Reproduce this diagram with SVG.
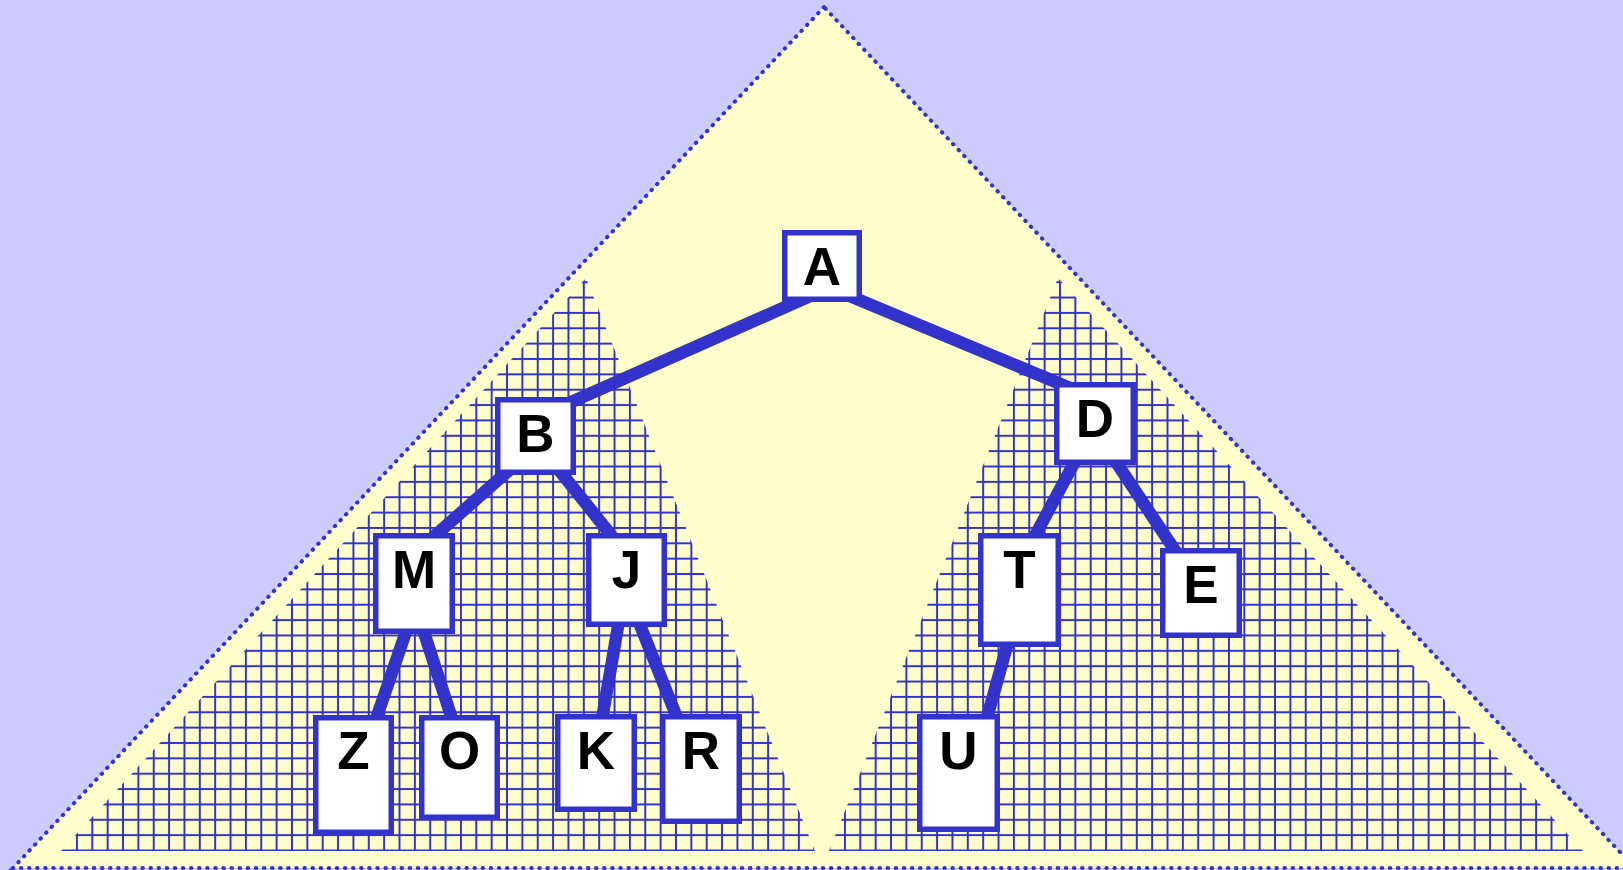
<svg xmlns="http://www.w3.org/2000/svg" width="1623" height="870" viewBox="0 0 1623 870">
<style>
.box{fill:#ffffff;stroke:#3333cc;stroke-width:5.5}
.lbl{font-family:"Liberation Sans",Arial,sans-serif;font-weight:bold;font-size:53px;fill:#000000;text-anchor:middle}
.edge{stroke:#3333cc;stroke-width:12.5;stroke-linecap:butt;fill:none}
</style>
<defs>
<pattern id="grid" patternUnits="userSpaceOnUse" x="-7.54" y="-1.98" width="15.36" height="15.36">
<line x1="7.68" y1="0" x2="7.68" y2="15.36" stroke="#3333cc" stroke-width="2"/>
<line x1="0" y1="7.68" x2="15.36" y2="7.68" stroke="#3333cc" stroke-width="2"/>
</pattern>
</defs>
<rect x="0" y="0" width="1623" height="870" fill="#ccccff"/>
<polygon points="824,7 13,868 1635,868" fill="#ffffcc" stroke="#3333cc" stroke-width="4" stroke-linecap="round" stroke-dasharray="0.5 7.6"/>
<g id="hatch">
<polygon points="586,278 61,851 815,851" fill="url(#grid)"/>
<polygon points="1058,278 1583,851 829,851" fill="url(#grid)"/>
</g>
<g id="connectors">
<line class="edge" x1="810" y1="296" x2="560" y2="407"/>
<line class="edge" x1="845" y1="294" x2="1075" y2="390"/>
<line class="edge" x1="515" y1="465" x2="430" y2="540"/>
<line class="edge" x1="555" y1="465" x2="615" y2="540"/>
<line class="edge" x1="1080" y1="452" x2="1030" y2="545"/>
<line class="edge" x1="1108" y1="450" x2="1180" y2="558"/>
<line class="edge" x1="410" y1="620" x2="374" y2="725"/>
<line class="edge" x1="420" y1="620" x2="454" y2="725"/>
<line class="edge" x1="620" y1="615" x2="601" y2="725"/>
<line class="edge" x1="636" y1="615" x2="680" y2="725"/>
<line class="edge" x1="1010" y1="635" x2="985" y2="725"/>
</g>
<g id="node-A"><rect class="box" x="784.75" y="232.75" width="74.5" height="66.5"/><text class="lbl" x="822" y="285">A</text></g>
<g id="node-B"><rect class="box" x="497.75" y="399.75" width="75.5" height="72.5"/><text class="lbl" x="535.5" y="452">B</text></g>
<g id="node-D"><rect class="box" x="1056.75" y="384.75" width="76.5" height="77.5"/><text class="lbl" x="1095" y="437">D</text></g>
<g id="node-M"><rect class="box" x="375.75" y="535.75" width="76.5" height="95.5"/><text class="lbl" x="414" y="588">M</text></g>
<g id="node-J"><rect class="box" x="588.75" y="535.75" width="75.5" height="88.5"/><text class="lbl" x="626.5" y="588">J</text></g>
<g id="node-T"><rect class="box" x="980.75" y="535.75" width="77.5" height="108.5"/><text class="lbl" x="1019.5" y="588">T</text></g>
<g id="node-E"><rect class="box" x="1162.75" y="550.75" width="76.5" height="84.5"/><text class="lbl" x="1201" y="603">E</text></g>
<g id="node-Z"><rect class="box" x="315.75" y="717.75" width="75.5" height="114.5"/><text class="lbl" x="353.5" y="769">Z</text></g>
<g id="node-O"><rect class="box" x="421.75" y="717.75" width="75.5" height="99.5"/><text class="lbl" x="459.5" y="769">O</text></g>
<g id="node-K"><rect class="box" x="557.75" y="716.75" width="76.5" height="92.5"/><text class="lbl" x="596" y="769">K</text></g>
<g id="node-R"><rect class="box" x="662.75" y="716.75" width="76.5" height="104.5"/><text class="lbl" x="701" y="769">R</text></g>
<g id="node-U"><rect class="box" x="919.75" y="716.75" width="77.5" height="112.5"/><text class="lbl" x="958.5" y="769">U</text></g>
</svg>
